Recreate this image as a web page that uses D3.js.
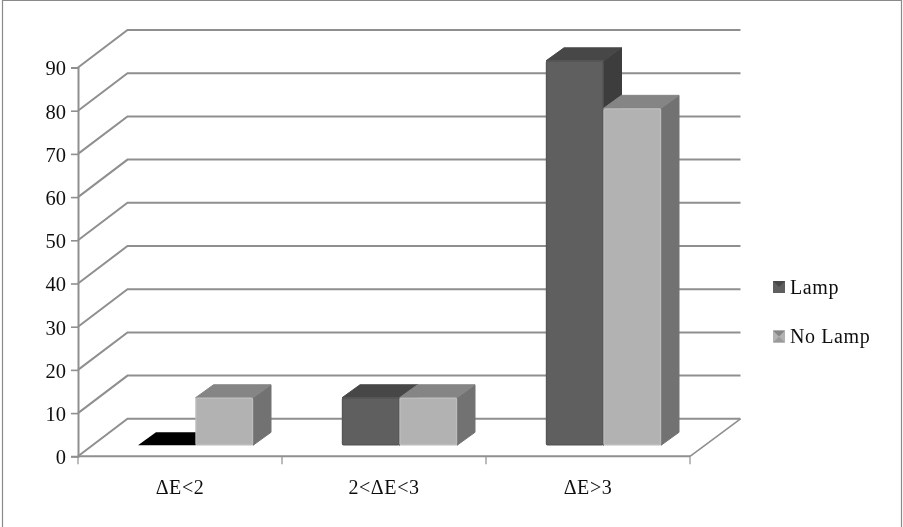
<!DOCTYPE html>
<html>
<head>
<meta charset="utf-8">
<script src="https://cdnjs.cloudflare.com/ajax/libs/d3/7.8.5/d3.min.js"></script>
<style>
	html, body { margin: 0; padding: 0; background: #fff; }
	svg { display: block; }
	text { font-family: "Liberation Serif", serif; fill: #111; }
</style>
</head>
<body>
<div id="chart"></div>
<script>
// Chart data
var categories = ["ΔE<2", "2<ΔE<3", "ΔE>3"];
var seriesNames = ["Lamp", "No Lamp"];
var lampValues = [0, 11, 89];
var noLampValues = [11, 11, 78];
var yTicks = [0, 10, 20, 30, 40, 50, 60, 70, 80, 90];

// Colours for each series: front, top, side
var faceColors = {
	"Lamp": { front: "#5f5f5f", top: "#474747", side: "#3e3e3e", edge: "#565656" },
	"No Lamp": { front: "#b2b2b2", top: "#858585", side: "#727272", edge: "#bcbcbc" }
};
var gridColor = "#8f8f8f";

var width = 903, height = 527;

// Fake 3D: wall offset from front plane, bar depth, and gap of bars from the front edge
var wallDx = 49.5, wallDy = -37.5;
var barDx = 18, barDy = -13;
var floorLift = 11;

var x = d3.scaleBand().domain(categories).range([78, 690]);
var xInner = d3.scaleBand().domain(seriesNames).range([60, 175]);
var y = d3.scaleLinear().domain([0, 90]).range([456.3, 67.5]);

var values = { "Lamp": lampValues, "No Lamp": noLampValues };

var svg = d3.select("#chart")
	.append("svg")
	.attr("width", width)
	.attr("height", height);

// Source picture is a soft scan, so blur everything a little
svg.append("defs").append("filter")
	.attr("id", "soft")
	.attr("filterUnits", "userSpaceOnUse")
	.attr("x", 0).attr("y", 0).attr("width", width).attr("height", height)
	.append("feGaussianBlur")
	.attr("stdDeviation", 0.55);

var root = svg.append("g").attr("filter", "url(#soft)");

root.append("rect").attr("width", width).attr("height", height).attr("fill", "#fff");

// Outer frame, no line along the bottom
root.append("path")
	.attr("d", d3.line()([[2.5, height], [2.5, 0.5], [901.5, 0.5], [901.5, height]]))
	.attr("fill", "none")
	.attr("stroke", "#8a8a8a")
	.attr("stroke-width", 1.2);

// Grid lines running up the side wall and along the back
var grid = root.append("g");
grid.selectAll("path")
	.data(yTicks)
	.enter()
	.append("path")
	.attr("d", function(d) {
		var front = x.range()[0];
		return d3.line()([
			[front, y(d)],
			[front + wallDx, y(d) + wallDy],
			[x.range()[1] + wallDx + 1, y(d) + wallDy]
		]);
	})
	.attr("fill", "none")
	.attr("stroke", gridColor)
	.attr("stroke-width", 2);

// Floor right edge
root.append("path")
	.attr("d", d3.line()([
		[x.range()[1], y(0)],
		[x.range()[1] + wallDx + 1, y(0) + wallDy]
	]))
	.attr("fill", "none")
	.attr("stroke", gridColor)
	.attr("stroke-width", 1.6);

// Y axis
var yAxis = d3.axisLeft(y).tickValues(yTicks).tickSize(7).tickPadding(5);
var yG = root.append("g")
	.attr("transform", "translate(78, 0)")
	.call(yAxis);
yG.select(".domain").attr("stroke", gridColor).attr("stroke-width", 2);
yG.selectAll(".tick line").attr("stroke", gridColor).attr("stroke-width", 1.6);
yG.selectAll("text")
	.attr("font-size", 20.5)
	.attr("font-family", "Liberation Serif")
	.attr("fill", "#111")
	.attr("dy", "0.36em");

// X axis, labels sit in the middle of the band
var xAxis = d3.axisBottom(x).tickSize(0).tickPadding(24);
var xG = root.append("g")
	.attr("transform", "translate(0, " + y(0) + ")")
	.call(xAxis);
xG.select(".domain").remove();
xG.selectAll("text")
	.attr("font-size", 20)
	.attr("letter-spacing", 0.6)
	.attr("font-family", "Liberation Serif")
	.attr("fill", "#111");

root.append("path")
	.attr("d", d3.line()([[x.range()[0], y(0)], [x.range()[1], y(0)]]))
	.attr("stroke", gridColor)
	.attr("stroke-width", 2);

// X ticks are on the band edges
var edges = categories.map(function(d) { return x(d); }).concat([x.range()[1]]);
root.append("g").selectAll("line")
	.data(edges)
	.enter()
	.append("line")
	.attr("x1", function(d) { return d; })
	.attr("x2", function(d) { return d; })
	.attr("y1", y(0))
	.attr("y2", y(0) + 8)
	.attr("stroke", gridColor)
	.attr("stroke-width", 1.2);

// Bars
function drawBar(g, left, w, value, colors) {
	var bottom = y(0) - floorLift;
	var top = y(value) - floorLift;
	if (value === 0) {
		g.append("path")
			.attr("d", d3.line()([
				[left, bottom],
				[left + barDx, bottom + barDy],
				[left + w + barDx, bottom + barDy],
				[left + w, bottom]
			]) + "Z")
			.attr("fill", "#000");
		return;
	}
	g.append("path")
		.attr("d", d3.line()([
			[left + w, top],
			[left + w + barDx, top + barDy],
			[left + w + barDx, bottom + barDy],
			[left + w, bottom]
		]) + "Z")
		.attr("fill", colors.side)
		.attr("stroke", colors.side)
		.attr("stroke-width", 1)
		.attr("stroke-linejoin", "round");
	g.append("path")
		.attr("d", d3.line()([
			[left, top],
			[left + barDx, top + barDy],
			[left + w + barDx, top + barDy],
			[left + w, top]
		]) + "Z")
		.attr("fill", colors.top)
		.attr("stroke", colors.top)
		.attr("stroke-width", 1)
		.attr("stroke-linejoin", "round");
	g.append("rect")
		.attr("x", left + 0.5)
		.attr("y", top + 0.5)
		.attr("width", w - 1)
		.attr("height", bottom - top - 1)
		.attr("rx", 1)
		.attr("fill", colors.front)
		.attr("stroke", colors.edge)
		.attr("stroke-width", 1.4);
}

var bars = root.append("g");
categories.forEach(function(cat, i) {
	seriesNames.forEach(function(name) {
		drawBar(bars, x(cat) + xInner(name), xInner.bandwidth(), values[name][i], faceColors[name]);
	});
});

// Legend
var legendY = d3.scaleOrdinal().domain(seriesNames).range([287, 336.5]);
var legend = root.append("g");
seriesNames.forEach(function(name) {
	var cy = legendY(name);
	var c = faceColors[name];
	var l = 773, r = 785, t = cy - 6, b = cy + 6;
	var item = legend.append("g");
	item.append("rect").attr("x", l).attr("y", t).attr("width", r - l).attr("height", b - t).attr("fill", c.front);
	item.append("path")
		.attr("d", d3.line()([[l, t], [r, t], [(l + r) / 2, cy]]) + "Z")
		.attr("fill", c.top);
	item.append("path")
		.attr("d", d3.line()([[l, b], [r, b], [(l + r) / 2, cy]]) + "Z")
		.attr("fill", name === "Lamp" ? c.front : "#9a9a9a");
	item.append("text")
		.attr("x", 790)
		.attr("y", cy + 6.5)
		.attr("font-size", 20)
		.attr("letter-spacing", 0.6)
		.text(name);
});
</script>
</body>
</html>
